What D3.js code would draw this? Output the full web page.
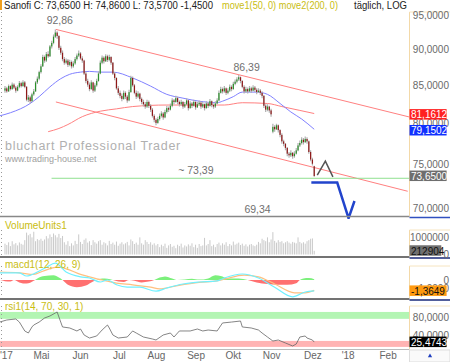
<!DOCTYPE html>
<html>
<head>
<meta charset="utf-8">
<script src="https://cdn.jsdelivr.net/npm/d3@7"></script>
<style>
body{margin:0;background:#fff;}
svg{display:block;font-family:"Liberation Sans",Arial,sans-serif;}
</style>
</head>
<body>
<svg id="chart" width="450" height="362"></svg>
<script>
// daily candles, trading-day index 0 = first day of April 2017 ... 172 = 4 Dec 2017
const ohlc = [
 [84.3,84.9,84.0,84.6],[84.6,84.8,84.0,84.2],[84.2,85.1,84.1,84.9],[84.9,85.0,84.3,84.5],[84.5,85.4,84.4,85.1],
 [85.1,85.3,84.5,84.7],[84.7,84.9,84.0,84.3],[84.3,85.0,84.2,84.8],[84.8,85.6,84.6,85.3],[85.3,85.5,84.7,84.9],
 [84.9,85.7,84.8,85.4],[85.4,85.6,84.6,84.8],[84.8,84.9,82.9,83.1],[83.1,83.7,82.8,83.4],[83.4,83.6,82.6,82.9],
 [82.9,84.0,82.8,83.8],[83.8,84.5,83.6,84.2],[84.2,85.6,84.1,85.4],[85.4,86.2,85.2,85.9],[85.9,87.0,85.7,86.8],
 [86.8,87.9,86.6,87.6],[87.6,89.2,87.5,88.9],[88.9,89.1,88.1,88.4],[88.4,89.6,88.2,89.3],[89.3,89.7,88.8,89.0],
 [89.0,90.6,88.9,90.4],[90.4,91.2,90.1,90.9],[90.9,92.1,90.7,91.8],[91.8,92.86,91.6,92.4],[92.4,92.6,91.5,91.9],
 [91.9,92.0,89.9,90.2],[90.2,90.5,89.2,89.5],[89.5,89.8,88.3,88.6],[88.6,88.9,87.8,88.1],[88.1,88.7,87.9,88.4],
 [88.4,88.6,87.5,87.8],[87.8,88.5,87.6,88.2],[88.2,88.4,87.3,87.6],[87.6,88.3,87.4,88.0],[88.0,88.9,87.8,88.6],
 [88.6,89.4,88.4,89.1],[89.1,89.8,88.9,89.4],[89.4,89.6,88.5,88.7],[88.7,89.0,88.1,88.4],[88.4,88.5,86.4,86.6],
 [86.6,86.9,85.3,85.6],[85.6,85.9,84.8,85.1],[85.1,85.4,84.2,84.5],[84.5,85.7,84.4,85.4],[85.4,85.5,84.0,84.3],
 [84.3,85.3,84.1,85.0],[85.0,85.9,84.8,85.6],[85.6,86.9,85.5,86.6],[86.6,88.4,86.5,88.1],[88.1,89.1,87.9,88.8],
 [88.8,89.0,88.0,88.3],[88.3,89.3,88.2,89.0],[89.0,89.2,88.2,88.5],[88.5,89.2,88.3,88.9],[88.9,89.0,87.8,88.1],
 [88.1,88.2,86.4,86.6],[86.6,86.8,85.7,86.0],[86.0,86.1,84.4,84.6],[84.6,84.9,83.7,84.0],[84.0,84.3,83.3,83.6],
 [83.6,83.9,82.9,83.2],[83.2,84.3,83.1,84.0],[84.0,84.2,83.2,83.5],[83.5,83.7,82.7,83.0],[83.0,84.4,82.9,84.1],
 [84.1,86.3,84.0,86.0],[86.0,86.2,84.8,85.0],[85.0,85.2,83.8,84.0],[84.0,84.3,83.2,83.5],[83.5,84.2,83.3,83.9],
 [83.9,84.0,82.9,83.2],[83.2,83.4,82.5,82.8],[82.8,83.1,82.2,82.5],[82.5,82.8,81.9,82.2],[82.2,83.1,82.0,82.8],
 [82.8,83.0,82.0,82.3],[82.3,82.5,81.5,81.8],[81.8,82.0,80.8,81.0],[81.0,81.2,80.2,80.5],[80.5,80.7,79.8,80.1],
 [80.1,80.9,80.0,80.6],[80.6,81.3,80.4,81.0],[81.0,81.6,80.8,81.3],[81.3,81.5,80.5,80.8],[80.8,81.8,80.7,81.5],
 [81.5,82.3,81.3,82.0],[82.0,82.2,81.5,81.8],[81.8,82.6,81.7,82.3],[82.3,83.3,82.1,83.0],[83.0,83.2,82.5,82.8],
 [82.8,83.6,82.7,83.3],[83.3,83.5,82.5,82.8],[82.8,83.0,82.2,82.5],[82.5,83.1,82.3,82.8],[82.8,82.9,81.9,82.2],
 [82.2,82.8,82.0,82.5],[82.5,83.3,82.4,83.0],[83.0,83.1,81.7,82.0],[82.0,82.9,81.9,82.6],[82.6,82.8,82.0,82.3],
 [82.3,83.1,82.2,82.8],[82.8,82.9,81.8,82.1],[82.1,82.8,82.0,82.5],[82.5,83.0,82.3,82.7],[82.7,82.9,81.9,82.2],
 [82.2,82.8,82.0,82.5],[82.5,82.6,81.7,82.0],[82.0,82.9,81.9,82.6],[82.6,82.8,82.0,82.3],[82.3,83.2,82.2,82.9],
 [82.9,83.0,82.1,82.4],[82.4,82.6,81.9,82.2],[82.2,82.9,82.0,82.6],[82.6,83.3,82.5,83.0],[83.0,84.3,82.9,84.0],
 [84.0,84.8,83.9,84.5],[84.5,84.7,83.9,84.2],[84.2,84.9,84.0,84.6],[84.6,84.7,83.7,84.0],[84.0,84.6,83.8,84.3],
 [84.3,85.1,84.1,84.8],[84.8,85.0,84.2,84.5],[84.5,85.5,84.4,85.2],[85.2,85.8,85.0,85.5],[85.5,86.1,85.3,85.8],
 [85.8,86.39,85.6,86.1],[86.1,86.2,85.3,85.6],[85.6,85.7,84.6,84.8],[84.8,85.0,83.9,84.2],[84.2,84.8,84.0,84.5],
 [84.5,84.7,83.9,84.2],[84.2,84.9,84.1,84.6],[84.6,84.8,84.0,84.3],[84.3,85.0,84.2,84.7],[84.7,84.9,84.1,84.4],
 [84.4,84.6,83.8,84.1],[84.1,84.6,84.0,84.3],[84.3,84.5,83.7,84.0],[84.0,84.2,83.3,83.6],[83.6,83.7,82.0,82.3],
 [82.3,82.5,81.5,81.8],[81.8,82.5,81.6,82.2],[82.2,82.3,81.4,81.7],[81.7,81.9,80.9,81.2],[79.0,80.0,78.8,79.6],
 [79.6,79.8,79.0,79.3],[79.3,80.0,79.2,79.8],[79.8,79.9,78.9,79.2],[79.2,79.3,78.3,78.6],[78.6,78.8,77.5,77.8],
 [77.8,78.0,77.2,77.5],[77.5,77.6,76.7,77.0],[77.0,77.1,76.0,76.3],[76.3,76.5,75.8,76.1],[76.1,76.7,75.9,76.4],
 [76.4,76.5,75.7,76.0],[76.0,76.6,75.8,76.3],[76.3,77.0,76.2,76.7],[76.7,77.6,76.6,77.3],[77.3,77.9,77.1,77.6],
 [77.6,78.3,77.4,78.0],[78.0,78.2,77.4,77.7],[77.7,78.4,77.6,78.1],[78.1,78.3,77.5,77.8],[77.8,77.9,76.3,76.5],
 [76.5,76.7,75.4,75.6],[75.6,75.8,74.9,75.1],[74.8,74.86,73.57,73.65]
];

// volume in thousands of units
const volume = [
 620,540,700,480,760,580,650,520,690,610,560,
 820,1250,1100,1180,980,1300,
 760,880,820,900,780,860,
 1050,920,1150,1000,1200,1100,980,1180,940,1060,
 700,560,760,480,640,520,780,600,
 1150,
 720,600,840,920,680,760,540,820,700,620,760,
 820,560,700,640,520,780,600,680,560,740,500,620,700,
 580,640,720,520,860,760,600,680,560,980,
 640,560,820,720,600,700,560,640,520,600,
 420,560,480,620,380,520,600,440,500,360,560,480,620,400,520,
 460,580,500,640,420,560,380,600,480,520,
 950,520,600,820,
 480,560,420,600,680,520,640,560,700,480,600,520,740,560,620,680,
 540,620,500,580,460,560,600,520,480,560,
 720,640,900,820,760,980,700,860,
 1280,
 780,680,820,720,760,640,700,760,680,620,720,
 680,640,
 980,
 720,640,700,620,760,820,900,920,
 213
];

// moving averages: [index, value]
const move1 = [[-3,81.0],[3,81.4],[14,82.6],[19,83.5],[25,84.8],[31,85.9],[36,86.5],[42,86.8],[47,86.9],[53,86.8],
 [60,86.8],[71,86.0],[81,84.9],[90,83.8],[99,83.3],[108,82.9],[118,82.7],[121,82.9],[127,83.5],[132,84.1],
 [140,84.1],[146,83.8],[153,82.6],[159,81.5],[165,80.6],[172,79.3]];
const move2 = [[24,79.0],[30,79.4],[35,79.9],[43,80.9],[53,81.6],[62,81.9],[71,82.2],[90,82.4],[108,82.4],
 [122,82.4],[132,82.7],[146,82.6],[154,82.2],[164,81.7],[172,81.3]];

// trend channel, support and forecast drawing: [index, price]
const channelUpper = [[28.3,92.86],[225,80.85]];
const channelLower = [[28.3,82.8],[224,71.9]];
const support = [[25.9,73.39],[225,73.39]];
const lambdaMark = [[173.7,73.75],[178.2,75.4],[182.4,73.55]];
const targetMark = [[170.4,72.9],[184.8,72.9],[191.1,68.9],[194.4,70.8]];
const priceNotes = [
 {i:30.5, p:92.86, dy:-5, text:"92,86", anchor:"middle"},
 {i:134.4, p:86.39, dy:-4, text:"86,39", anchor:"middle"},
 {i:116, p:73.39, dy:-4, text:"~ 73,39", anchor:"end"},
 {i:140.5, p:69.34, dy:-1, text:"69,34", anchor:"middle"}
];

// MACD(12,26,9): [index, value]
const macdLine = [[-3,0.9],[8,0.9],[12,0.5],[18,1.0],[23,1.6],[28,2.1],[34,1.0],[42,0.4],[47,0.25],[53,-0.25],
 [57,0],[62,-0.6],[68,-0.9],[75,-0.9],[84,-1.4],[90,-1.0],[99,-0.5],[108,-0.25],[118,-0.1],[122,0.25],
 [132,0.75],[141,0.25],[150,-0.9],[160,-2.1],[167,-1.5],[172,-1.36]];
const macdSignal = [[-3,1.0],[8,0.9],[16,0.7],[21,1.1],[29,1.6],[34,1.4],[42,0.7],[47,0.4],[54,0],[62,-0.4],
 [71,-0.6],[81,-0.9],[86,-1.1],[96,-0.7],[108,-0.3],[118,-0.1],[122,0.1],[133,0.6],[141,0.4],[150,-0.5],
 [161,-1.6],[167,-1.6],[172,-1.3]];
const macdHist = [[-3,0],[0,-0.15],[3,-0.2],[5,0],[8,-0.3],[12,-0.45],[16,-0.1],[18,0.2],[22,0.5],[27,0.6],
 [30,0.3],[32,0],[35,-0.6],[40,-0.9],[45,-0.7],[49,-0.2],[51,0],[54,0.2],[57,0.15],[60,0],[63,-0.2],
 [66,-0.25],[69,0],[72,-0.1],[76,-0.3],[80,-0.2],[83,0],[86,0.3],[89,0.45],[93,0.2],[96,0],[100,0.05],
 [104,0.15],[108,0.05],[113,0.2],[117,0.6],[120,0.5],[124,0.2],[130,0.2],[135,0],[140,-0.3],[146,-0.5],
 [152,-0.6],[157,-0.6],[162,-0.4],[164,0],[166,0.2],[169,0.25],[172,0.1]];

// RSI(14): [index, value]
const rsi = [[-3,69],[1,73.5],[6,75.7],[8,69],[11,49.6],[13,45.2],[15,58.3],[16,62.6],[19,69],[22,77.8],
 [25,82.2],[28,88.7],[29,90.9],[31,69],[32,58.3],[36,56.1],[40,49.6],[42,53.9],[44,40.9],[47,34.3],
 [51,38.7],[54,51.7],[57,62.6],[58,56.1],[60,40.9],[63,34.3],[68,36.5],[71,49.6],[73,45.2],[77,36.5],
 [82,32.2],[84,30],[88,40.9],[92,45.2],[94,36.5],[97,49.6],[103,49.6],[107,53.9],[110,49.6],[113,51.7],
 [118,49.6],[121,67],[126,69],[131,71.3],[132,58.3],[137,56.1],[141,51.7],[143,45.2],[146,36.5],[149,27.8],
 [152,30],[156,23.5],[160,17],[162,21.3],[164,36.5],[167,38.7],[168,34.3],[171,30],[172,25.5]];
const rsiBands = [{lo:76, hi:91, color:"#b3f5b3"}, {lo:15, hi:28, color:"#ffb3b3"}];

const monthTicks = [0.5,20,41.7,63.3,84,106,126.7,148,171,190.6,212.8];
const monthLabels = ["'17","Mai","Jun","Jul","Aug","Sep","Okt","Nov","Dez","'18","Feb"];
const priceTicks = [70,75,80,85,90,95];

const fmt4 = v => d3.format(".4f")(v).replace(".", ",");
const svg = d3.select("#chart");
const plotR = 409.5;
const font = "Liberation Sans, Arial, sans-serif";
const olive = "#c9bd10";

const x = d3.scaleLinear().domain([-2.78, 225]).range([0, plotR]);
const y = d3.scaleLog().domain([95, 70]).range([15, 208.2]);
const yVol = d3.scaleLinear().domain([0, 1000]).range([254.5, 237]);
const yMacd = d3.scaleLinear().domain([0, 1]).range([280, 272]);
const yRsi = d3.scaleLinear().domain([0, 100]).range([353.8, 307.8]);

const defs = svg.append("defs");
function clip(id, y0, y1) {
  defs.append("clipPath").attr("id", id).append("rect")
    .attr("x", 0).attr("y", y0).attr("width", plotR).attr("height", y1 - y0);
}
clip("cMain", 10, 219);
clip("cVol", 218, 256);
clip("cMacd", 258, 298);
clip("cRsi", 300, 349);
defs.append("clipPath").attr("id", "cPos").append("rect").attr("x", 0).attr("y", 258).attr("width", plotR).attr("height", yMacd(0) - 258);
defs.append("clipPath").attr("id", "cNeg").append("rect").attr("x", 0).attr("y", yMacd(0)).attr("width", plotR).attr("height", 298 - yMacd(0));

// ---------- title ----------
const title = svg.append("g").attr("font-size", 10).attr("font-family", font);
title.append("text").attr("x", 4).attr("y", 9).attr("fill", "#222")
  .attr("textLength", 209).attr("lengthAdjust", "spacingAndGlyphs")
  .text("Sanofi C: 73,6500 H: 74,8600 L: 73,5700 -1,4500");
title.append("text").attr("x", 222).attr("y", 9).attr("fill", olive)
  .attr("textLength", 116).attr("lengthAdjust", "spacingAndGlyphs")
  .text("move1(50, 0) move2(200, 0)");
title.append("text").attr("x", 354).attr("y", 9).attr("fill", "#222")
  .attr("textLength", 53).attr("lengthAdjust", "spacingAndGlyphs")
  .text("täglich, LOG");
svg.append("rect").attr("x", 0).attr("y", 0).attr("width", 2).attr("height", 10).attr("fill", "#f0a020");

// ---------- main panel ----------
const wm = svg.append("g").attr("font-family", font);
wm.append("text").attr("x", 5).attr("y", 150).attr("font-size", 12.5).attr("letter-spacing", 0.7)
  .attr("fill", "#b0b0b0").text("bluchart Professional Trader");
wm.append("text").attr("x", 5).attr("y", 162).attr("font-size", 9).attr("fill", "#a0a0a0").text("www.trading-house.net");

const main = svg.append("g").attr("clip-path", "url(#cMain)");
const seg = d3.line().x(d => x(d[0])).y(d => y(d[1]));
const smooth = d3.line().x(d => x(d[0])).y(d => y(d[1])).curve(d3.curveMonotoneX);

main.append("path").datum(channelUpper).attr("d", seg).attr("stroke", "#ff8080").attr("fill", "none");
main.append("path").datum(channelLower).attr("d", seg).attr("stroke", "#ff8080").attr("fill", "none");
main.append("path").datum(support).attr("d", seg).attr("stroke", "#90e090").attr("fill", "none");
main.append("path").datum(move2).attr("d", smooth).attr("stroke", "#ff8080").attr("fill", "none");
main.append("path").datum(move1).attr("d", smooth).attr("stroke", "#8080ff").attr("fill", "none");

const candle = main.selectAll("g.c").data(ohlc).join("g").attr("class", "c");
candle.append("line")
  .attr("x1", (d, i) => x(i)).attr("x2", (d, i) => x(i))
  .attr("y1", d => y(d[1])).attr("y2", d => y(d[2]))
  .attr("stroke", "#b0b0b0").attr("stroke-width", 1.2);
candle.append("rect")
  .attr("x", (d, i) => x(i) - 0.6).attr("width", 1.2)
  .attr("y", d => y(Math.max(d[0], d[3])))
  .attr("height", d => Math.max(0.8, Math.abs(y(d[0]) - y(d[3]))))
  .attr("fill", d => d[3] >= d[0] ? "#2a8f2a" : "#8e1818");

main.selectAll("text.note").data(priceNotes).join("text").attr("class", "note")
  .attr("x", d => x(d.i)).attr("y", d => y(d.p) + d.dy)
  .attr("text-anchor", d => d.anchor).attr("font-size", 10.5).attr("font-family", font)
  .attr("fill", "#707070").text(d => d.text);

main.append("path").datum(lambdaMark).attr("d", seg).attr("stroke", "#555").attr("stroke-width", 1.5).attr("fill", "none");
main.append("path").datum(targetMark).attr("d", seg).attr("stroke", "#2244cc").attr("stroke-width", 2.5)
  .attr("stroke-linejoin", "miter").attr("fill", "none");

// ---------- volume ----------
const vol = svg.append("g").attr("clip-path", "url(#cVol)");
vol.selectAll("rect").data(volume).join("rect")
  .attr("x", (d, i) => x(i) - 0.5).attr("width", 1)
  .attr("y", d => yVol(d)).attr("height", d => yVol(0) - yVol(d))
  .attr("fill", "#cacaca");

// ---------- macd ----------
const macd = svg.append("g").attr("clip-path", "url(#cMacd)");
const histArea = d3.area().x(d => x(d[0])).y0(yMacd(0)).y1(d => yMacd(d[1])).curve(d3.curveMonotoneX);
macd.append("g").attr("clip-path", "url(#cPos)").append("path").datum(macdHist).attr("d", histArea).attr("fill", "#7cf07c");
macd.append("g").attr("clip-path", "url(#cNeg)").append("path").datum(macdHist).attr("d", histArea).attr("fill", "#ff7070");
const mLine = d3.line().x(d => x(d[0])).y(d => yMacd(d[1])).curve(d3.curveMonotoneX);
macd.append("path").datum(macdSignal).attr("d", mLine).attr("stroke", "#ffc080").attr("stroke-width", 1.2).attr("fill", "none");
macd.append("path").datum(macdLine).attr("d", mLine).attr("stroke", "#70f0ff").attr("stroke-width", 1.2).attr("fill", "none");

// ---------- rsi ----------
const rs = svg.append("g").attr("clip-path", "url(#cRsi)");
rs.selectAll("rect").data(rsiBands).join("rect")
  .attr("x", 0).attr("width", plotR)
  .attr("y", d => yRsi(d.hi)).attr("height", d => yRsi(d.lo) - yRsi(d.hi))
  .attr("fill", d => d.color);
rs.append("path").datum(rsi).attr("d", d3.line().x(d => x(d[0])).y(d => yRsi(d[1])))
  .attr("stroke", "#666").attr("stroke-width", 0.8).attr("fill", "none");

// ---------- panel titles ----------
const lab = svg.append("g").attr("font-family", font).attr("font-size", 10).attr("fill", olive);
lab.append("text").attr("x", 5).attr("y", 229).text("VolumeUnits1");
lab.append("text").attr("x", 5).attr("y", 268).text("macd1(12, 26, 9)");
lab.append("text").attr("x", 5).attr("y", 310).text("rsi1(14, 70, 30, 1)");

// ---------- separators & frames ----------
const sep = svg.append("g");
[[216.5, "#888", "#3050c0"], [257, "#444", "#1a2a7a"], [299, "#444", "#1a2a7a"]].forEach(([yy, c, c2]) => {
  sep.append("line").attr("x1", 0).attr("x2", plotR).attr("y1", yy).attr("y2", yy).attr("stroke", c).attr("stroke-width", 1.5);
  sep.append("line").attr("x1", plotR).attr("x2", 450).attr("y1", yy + 1).attr("y2", yy + 1).attr("stroke", c2).attr("stroke-width", 1.5);
});
sep.append("line").attr("x1", 0).attr("x2", plotR).attr("y1", 349.5).attr("y2", 349.5).attr("stroke", "#bbb");
[[12, 216], [230, 256], [266, 298], [306, 349]].forEach(([a, b]) => {
  sep.append("line").attr("x1", plotR).attr("x2", plotR).attr("y1", a).attr("y2", b).attr("stroke", "#f3d9a8");
  sep.append("line").attr("x1", plotR).attr("x2", 450).attr("y1", a).attr("y2", a).attr("stroke", "#f6e4c0");
  sep.append("line").attr("x1", 1.5).attr("x2", 1.5).attr("y1", a).attr("y2", b)
    .attr("stroke", "#999").attr("stroke-dasharray", "1,3");
});

// ---------- right axes ----------
function rightAxis(scale, ticks, fmt) {
  const g = svg.append("g").attr("transform", `translate(450,0)`)
    .call(d3.axisLeft(scale).tickValues(ticks).tickFormat(fmt).tickSize(0).tickPadding(1));
  g.select(".domain").remove();
  g.selectAll("text").attr("fill", "#6a6a6a").attr("font-size", 10).attr("font-family", font);
}
rightAxis(y, priceTicks, fmt4);
rightAxis(yVol, [0, 1000], d => d3.format("d")(d * 1000));
rightAxis(yMacd, [0, -1], d => d === 0 ? "0" : fmt4(d));
rightAxis(yRsi, [40, 80], fmt4);

const boxes = [
  {yy: y(81.1612), text: "81,1612", bg: "#ff2020", fg: "#fff"},
  {yy: y(79.1502), text: "79,1502", bg: "#1030ff", fg: "#fff"},
  {yy: y(73.65), text: "73,6500", bg: "#6e6e6e", fg: "#fff"},
  {yy: yVol(212.904), text: "212904", bg: "#707070", fg: "#111"},
  {yy: yMacd(-1.3649), text: "-1,3649", bg: "#ff9a10", fg: "#111"},
  {yy: yRsi(25.4743), text: "25,4743", bg: "#000", fg: "#fff"}
];
const bx = svg.append("g").selectAll("g").data(boxes).join("g");
bx.append("rect").attr("x", 409.5).attr("y", d => d.yy - 5.5).attr("width", d => d.text.length * 5.3).attr("height", 10.5).attr("fill", d => d.bg);
bx.append("text").attr("x", 411).attr("y", d => d.yy + 3.8).attr("font-size", 10).attr("font-family", font)
  .attr("fill", d => d.fg).text(d => d.text);

// ---------- x axis ----------
const xa = svg.append("g").attr("transform", "translate(0,350)")
  .call(d3.axisBottom(x).tickValues(monthTicks).tickFormat((d, i) => monthLabels[i]).tickSize(0).tickPadding(2));
xa.select(".domain").remove();
xa.selectAll("text").attr("fill", "#666").attr("font-size", 10).attr("font-family", font);

svg.append("rect").attr("x", 409.5).attr("y", 350).attr("width", 40.5).attr("height", 12).attr("fill", "#fafafa").attr("stroke", "#ddd");
svg.append("path").attr("d", d3.symbol(d3.symbolTriangle, 8)()).attr("transform", "translate(430,356)").attr("fill", "#2040c0");
</script>
</body>
</html>
